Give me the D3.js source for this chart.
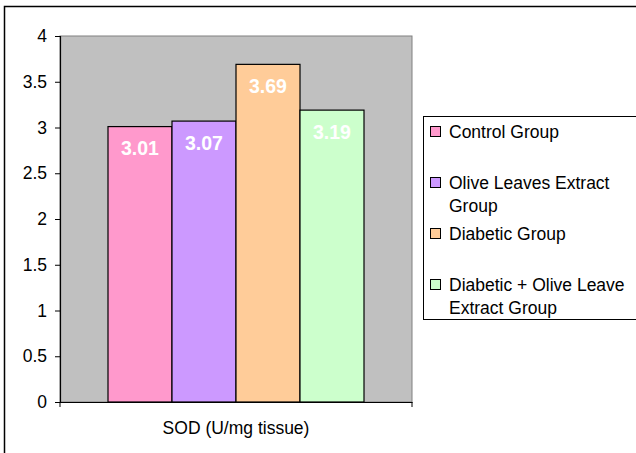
<!DOCTYPE html>
<html>
<head>
<meta charset="utf-8">
<script src="https://cdn.jsdelivr.net/npm/d3@7"></script>
<style>
  html, body { margin: 0; padding: 0; background: #fff; }
  svg { display: block; }
  text { font-family: Arial, "Liberation Sans", sans-serif; }
</style>
</head>
<body>
<script>
// SOD activity by treatment group
const category = "SOD (U/mg tissue)";
const seriesNames = ["Control Group", "Olive Leaves Extract Group", "Diabetic Group", "Diabetic + Olive Leave Extract Group"];
const seriesValues = [3.01, 3.07, 3.69, 3.19];
const seriesColors = ["#FF99CC", "#CC99FF", "#FFCC99", "#CCFFCC"];
const yTicks = [0, 0.5, 1, 1.5, 2, 2.5, 3, 3.5, 4];

const W = 636, H = 453;
const plot = { left: 60, right: 412, top: 36, bottom: 402 };

const svg = d3.select("body").append("svg").attr("width", W).attr("height", H);

// chart frame (runs off the right and bottom edges)
svg.append("rect")
  .attr("x", 4.5).attr("y", 6.5)
  .attr("width", W + 20).attr("height", H + 20)
  .attr("fill", "#fff").attr("stroke", "#000").attr("stroke-width", 1.5);

const y = d3.scaleLinear().domain([0, 4]).range([plot.bottom, plot.top]);
const xGroup = d3.scaleBand().domain([category]).range([plot.left, plot.right]);
const xSeries = d3.scaleBand().domain(seriesNames)
  .range([xGroup(category), xGroup(category) + xGroup.bandwidth()])
  .paddingInner(0).paddingOuter(0.75);

// plot area
svg.append("rect")
  .attr("x", plot.left).attr("y", plot.top)
  .attr("width", plot.right - plot.left).attr("height", plot.bottom - plot.top)
  .attr("fill", "#C0C0C0").attr("stroke", "#808080").attr("stroke-width", 1);

// bars
const bars = seriesNames.map((name, i) => ({ name, value: seriesValues[i], color: seriesColors[i] }));
svg.append("g").selectAll("rect").data(bars).join("rect")
  .attr("x", d => xSeries(d.name))
  .attr("y", d => y(d.value))
  .attr("width", xSeries.bandwidth())
  .attr("height", d => y(0) - y(d.value))
  .attr("fill", d => d.color)
  .attr("stroke", "#000").attr("stroke-width", 1.2);

// value labels
svg.append("g").selectAll("text").data(bars).join("text")
  .attr("x", d => xSeries(d.name) + xSeries.bandwidth() / 2)
  .attr("y", d => y(d.value) + 22)
  .attr("dy", "0.35em")
  .attr("text-anchor", "middle")
  .attr("fill", "#fff").attr("font-weight", "bold").attr("font-size", 19.5)
  .text(d => d.value.toFixed(2));

// y axis
const yAxis = svg.append("g").attr("transform", `translate(${plot.left},0)`)
  .call(d3.axisLeft(y).tickValues(yTicks).tickSize(5).tickPadding(8).tickFormat(d3.format("")));
yAxis.select(".domain").attr("stroke", "#000").attr("stroke-width", 1.2);
yAxis.selectAll(".tick line").attr("stroke", "#000");
yAxis.selectAll(".tick text").attr("font-size", 17.5).attr("fill", "#000")
  .style("font-family", "Arial, 'Liberation Sans', sans-serif");

// x axis with boundary ticks at the category edges
const xAxis = svg.append("g").attr("transform", `translate(0,${plot.bottom})`)
  .call(d3.axisBottom(xGroup).tickSize(0).tickPadding(20));
xAxis.select(".domain").attr("stroke", "#000").attr("stroke-width", 1.2);
xAxis.selectAll(".tick text").attr("font-size", 17.5).attr("fill", "#000")
  .style("font-family", "Arial, 'Liberation Sans', sans-serif");
xAxis.selectAll("line.edge").data(xGroup.range()).join("line")
  .attr("class", "edge")
  .attr("x1", d => d).attr("x2", d => d)
  .attr("y1", 0).attr("y2", 5)
  .attr("stroke", "#000");

// legend
const legend = svg.append("g");
legend.append("rect")
  .attr("x", 423.5).attr("y", 116.5)
  .attr("width", 240).attr("height", 203)
  .attr("fill", "#fff").attr("stroke", "#000").attr("stroke-width", 1);

const maxTextW = 186;
const measure = svg.append("text").attr("font-size", 17.5).attr("visibility", "hidden");
function wrap(label) {
  const words = label.split(" ");
  const lines = [];
  let cur = "";
  words.forEach(w => {
    const test = cur ? cur + " " + w : w;
    measure.text(test);
    if (cur && measure.node().getComputedTextLength() > maxTextW) {
      lines.push(cur); cur = w;
    } else cur = test;
  });
  lines.push(cur);
  return lines;
}

const entryStep = 51, lineStep = 23, firstY = 132;
bars.forEach((d, i) => {
  const cy = firstY + i * entryStep;
  const g = legend.append("g");
  g.append("rect")
    .attr("x", 430.5).attr("y", cy - 5.5)
    .attr("width", 10).attr("height", 10)
    .attr("fill", d.color).attr("stroke", "#000").attr("stroke-width", 1);
  wrap(d.name).forEach((line, k) => {
    g.append("text")
      .attr("x", 449).attr("y", cy + k * lineStep)
      .attr("dy", "0.35em")
      .attr("font-size", 17.5).attr("fill", "#000")
      .text(line);
  });
});
measure.remove();
</script>
</body>
</html>
